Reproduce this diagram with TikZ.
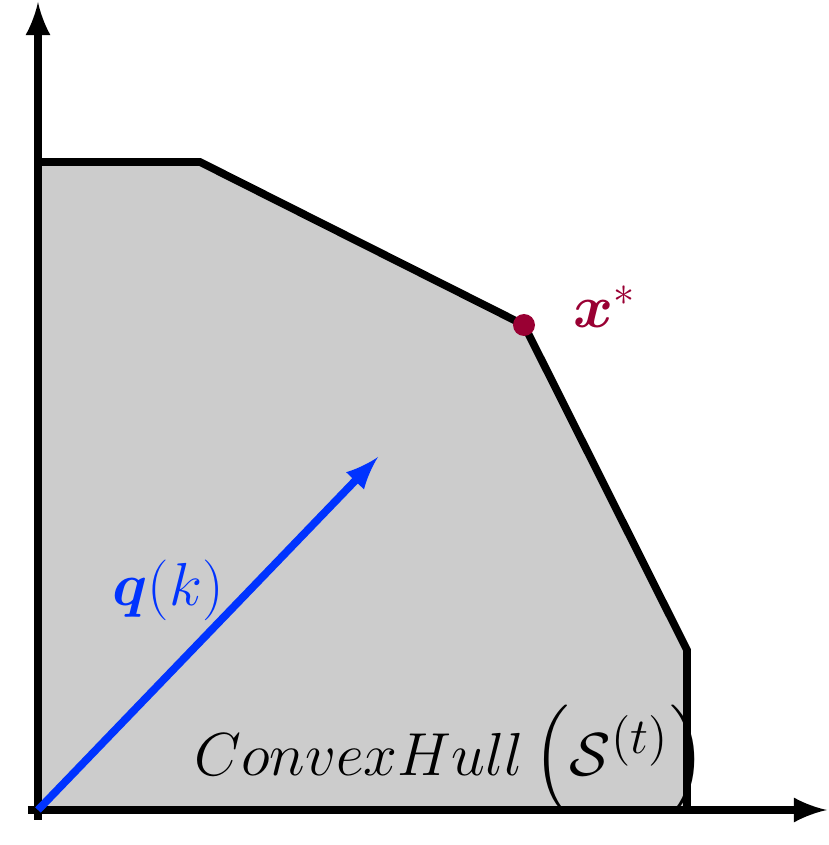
\documentclass[tikz,border=0pt]{standalone}
\usepackage{amsmath,bm}
\begin{document}
\begin{tikzpicture}[line width=1.5pt, font=\fontsize{17}{20}\selectfont]
                \useasboundingbox (0,0) rectangle (8.29,8.45);
                \fill[gray!40] (0.38,0.35) -- (0.38,6.83) -- (2.0,6.83) -- (5.24,5.2)
                  -- (6.87,1.95) -- (6.87,0.35) -- cycle;
                \draw[line width=2.2pt] (0.38,6.83) -- (2.0,6.83) -- (5.24,5.2)
                  -- (6.87,1.95) -- (6.87,0.35);

                \coordinate (o) at (0.38,0.35);
                \draw[-latex, line width=2.2pt] (0.38,0.25) -- (0.38,8.43);
                \draw[-latex, line width=2.2pt] (0.28,0.35) -- (8.27,0.35);

                \node[font=\fontsize{19}{22}\selectfont] (hull) at (4.5,0.85)
                  {$ConvexHull\left(\mathcal{S}^{(t)}\right)$};

                \coordinate (q) at (3.78,3.88);
                \draw[-latex, blue!80!cyan!60!blue, line width=2.2pt, color={rgb,255:red,0;green,51;blue,255}] (o) -- (q);
                \node[color={rgb,255:red,0;green,51;blue,255}] (qlab) at (1.68,2.55) {$\bm{q}(k)$};

                \fill[color={rgb,255:red,153;green,0;blue,51}] (5.24,5.2) circle (0.11);
                \node[color={rgb,255:red,153;green,0;blue,51}] (xstar) at (6.05,5.38) {$\bm{x}^{*}$};
              \end{tikzpicture}
\end{document}
